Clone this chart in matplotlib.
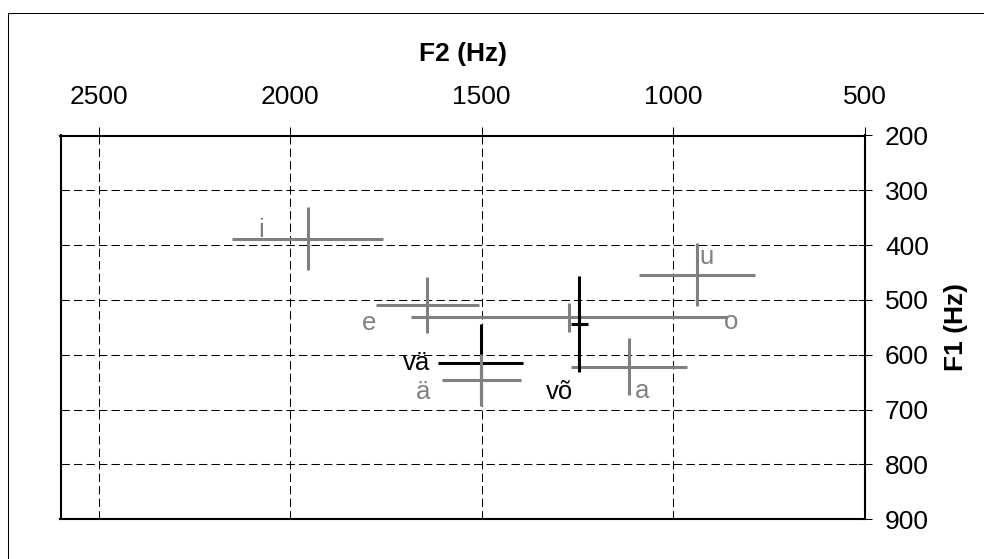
import matplotlib.pyplot as plt
from matplotlib.lines import Line2D

plt.rcParams['font.family'] = ['Liberation Sans', 'DejaVu Sans']

# Vowel formant means and standard deviations (Hz)
vowels = ['o', 'a', 'u', 'i', 'e', 'võ', 'vä', 'ä']
f2_mean = [1272, 1116, 938, 1955, 1642, 1245, 1503, 1501]
f2_sd = [412, 152, 151, 197, 135, 23, 110, 104]
f1_mean = [532, 622, 454, 388, 509, 544, 615, 646]
f1_sd = [27, 52, 57, 58, 51, 88, 72, 47]

f2_ticks = [2500, 2000, 1500, 1000, 500]
f1_ticks = [200, 300, 400, 500, 600, 700, 800, 900]

# label placement, pixels right / down from the cross centre
label_offset = {
    'i': (-46, -2), 'e': (-58, 25), 'o': (162, 12), 'vä': (-64, 7),
    'ä': (-58, 19), 'võ': (-20, 75), 'a': (13, 31), 'u': (10, -11),
}

W, H = 984, 559
fig = plt.figure(figsize=(W / 100, H / 100), dpi=100)
ax = fig.add_axes([60.5 / W, 1 - 519.2 / H, (864.7 - 60.5) / W, (519.2 - 135.5) / H])

for v, m2, s2, m1, s1 in zip(vowels, f2_mean, f2_sd, f1_mean, f1_sd):
    col = 'black' if v.startswith('v') else '#808080'
    ax.errorbar(m2, m1, xerr=s2, yerr=s1, fmt='none', ecolor=col,
                elinewidth=2.2, capsize=0, zorder=3)
    dx, dy = label_offset[v]
    ax.annotate(v, xy=(m2, m1), xytext=(dx * 0.72, -dy * 0.72),
                textcoords='offset points', ha='center', va='baseline',
                fontsize=18.5, color=col, zorder=4)

ax.set_xlim(2600, 500)
ax.set_ylim(900, 200)
ax.xaxis.tick_top()
ax.yaxis.tick_right()
ax.set_xticks(f2_ticks)
ax.set_yticks(f1_ticks)
ax.tick_params(axis='x', direction='out', length=6.3, width=0.75, pad=13, labelsize=19)
ax.tick_params(axis='y', direction='inout', length=9.4, width=0.75, pad=10, labelsize=19)
ax.grid(True, color='black', linewidth=0.75, linestyle=(0, (8, 4)))
for sp in ax.spines.values():
    sp.set_linewidth(1.5)

ax.set_xlabel('F2 (Hz)', fontsize=19, fontweight='bold', labelpad=17)
ax.xaxis.set_label_position('top')
ax.set_ylabel('F1 (Hz)', fontsize=19, fontweight='bold', labelpad=11)
ax.yaxis.set_label_position('right')

# outer frame
fig.add_artist(Line2D([7.5 / W, 7.5 / W], [0, 1 - 12.5 / H], color='black', lw=0.75))
fig.add_artist(Line2D([7.5 / W, 1], [1 - 12.5 / H, 1 - 12.5 / H], color='black', lw=0.75))

fig.savefig('out.png', dpi=100)
